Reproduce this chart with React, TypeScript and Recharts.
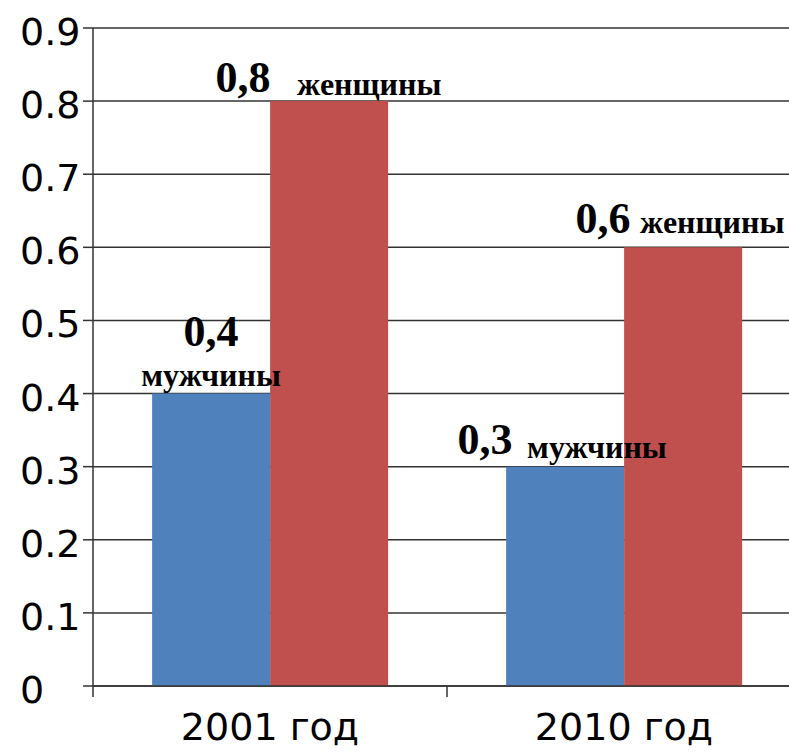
import React from "react";
import { BarChart, Bar, XAxis, YAxis, CartesianGrid, LabelList } from "recharts";

const categories = ["2001 год", "2010 год"];
const menValues = [0.4, 0.3];
const womenValues = [0.8, 0.6];
const seriesNames = { men: "мужчины", women: "женщины" };
const yTicks = [0, 0.1, 0.2, 0.3, 0.4, 0.5, 0.6, 0.7, 0.8, 0.9];

const data = categories.map((c, i) => ({ category: c, men: menValues[i], women: womenValues[i] }));

const BLUE = "#4F81BD";
const RED = "#C0504D";
const LINE = "#333333";
const SANS = "'DejaVu Sans', sans-serif";
const SERIF = "'Liberation Serif', 'Times New Roman', serif";

// label placement relative to bar centre / top
const labelLayout: Record<string, any[]> = {
  men: [
    { nx: 0, ny: -48, na: "middle", wx: 0, wy: -8, wa: "middle" },
    { nx: -80, ny: -13, na: "middle", wx: -38, wy: -9, wa: "start" },
  ],
  women: [
    { nx: -86, ny: -9, na: "middle", wx: -32, wy: -6, wa: "start" },
    { nx: -80, ny: -14, na: "middle", wx: -43, wy: -14, wa: "start" },
  ],
};

const makeLabel = (key: "men" | "women") => (props: any) => {
  const { x, y, width, value, index } = props;
  const L = labelLayout[key][index];
  if (!L) return null;
  const cx = Number(x) + Number(width) / 2;
  const top = Number(y);
  const num = String(value).replace(".", ",");
  return (
    <g>
      <text x={cx + L.nx} y={top + L.ny} textAnchor={L.na} fontFamily={SERIF} fontWeight="bold" fontSize={44} fill="#000">
        {num}
      </text>
      <text x={cx + L.wx} y={top + L.wy} textAnchor={L.wa} fontFamily={SERIF} fontWeight="bold" fontSize={32} fill="#000">
        {seriesNames[key]}
      </text>
    </g>
  );
};

const YTick = (props: any) => {
  const { y, payload } = props;
  return (
    <text x={20} y={Number(y) + 17} textAnchor="start" fontFamily={SANS} fontSize={38} fill="#000">
      {String(payload.value)}
    </text>
  );
};

const XTick = (props: any) => {
  const { x, y, payload, index } = props;
  const off = payload.offset ?? 177;
  const lx = Number(x) - off;
  return (
    <g>
      <line x1={lx} y1={y} x2={lx} y2={Number(y) + 11} stroke={LINE} strokeWidth={1.5} />
      {index === categories.length - 1 && (
        <line x1={Number(x) + off} y1={y} x2={Number(x) + off} y2={Number(y) + 11} stroke={LINE} strokeWidth={1.5} />
      )}
      <text x={x} y={Number(y) + 54} textAnchor="middle" fontFamily={SANS} fontSize={38} fill="#000">
        {payload.value}
      </text>
    </g>
  );
};

export default function App() {
  return (
    <div style={{ position: "fixed", left: 0, top: 0, width: 789, height: 752, overflow: "hidden", background: "#fff" }}>
      <BarChart
        width={801}
        height={752}
        data={data}
        margin={{ top: 28, right: 0, left: 0, bottom: 0 }}
        barCategoryGap="16.7%"
        barGap={0}
      >
        <CartesianGrid vertical={false} stroke={LINE} strokeWidth={1.5} strokeDasharray="" />
        <YAxis
          width={93}
          domain={[0, 0.9]}
          ticks={yTicks}
          interval={0}
          tickSize={10}
          tick={<YTick />}
          axisLine={{ stroke: LINE, strokeWidth: 1.5 }}
          tickLine={{ stroke: LINE, strokeWidth: 1.5 }}
        />
        <XAxis
          dataKey="category"
          height={66}
          tickSize={0}
          tickMargin={0}
          tickLine={false}
          tick={<XTick />}
          interval={0}
          axisLine={{ stroke: LINE, strokeWidth: 1.5 }}
        />
        <Bar dataKey="men" fill={BLUE} isAnimationActive={false}>
          <LabelList dataKey="men" content={makeLabel("men")} />
        </Bar>
        <Bar dataKey="women" fill={RED} isAnimationActive={false}>
          <LabelList dataKey="women" content={makeLabel("women")} />
        </Bar>
      </BarChart>
    </div>
  );
}
